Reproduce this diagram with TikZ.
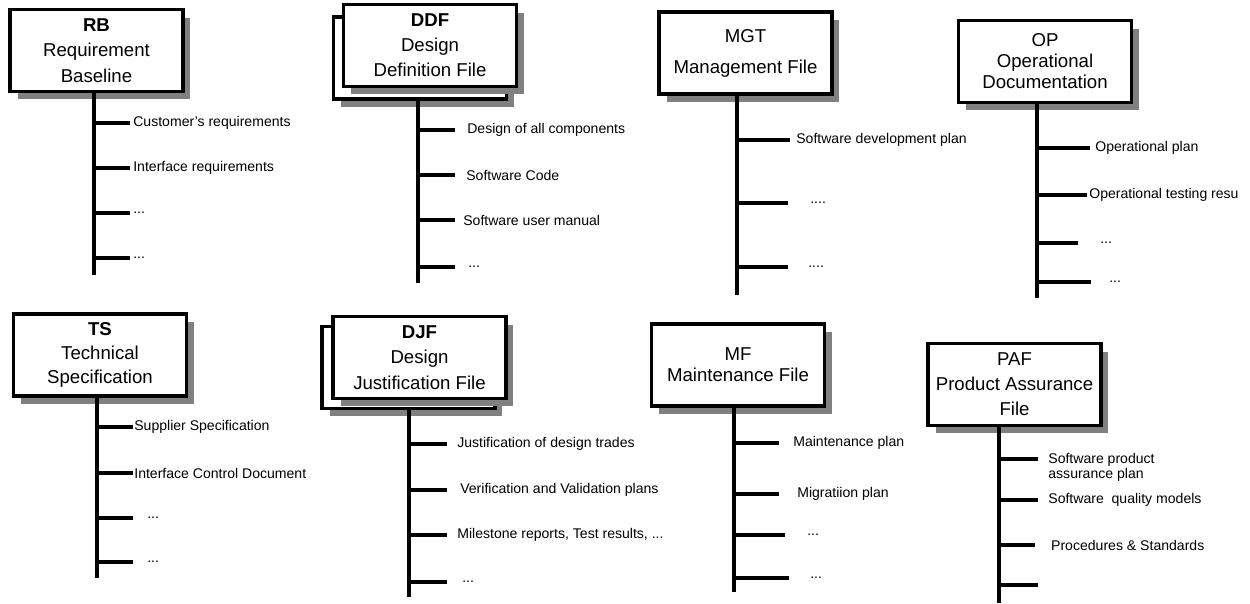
\documentclass[tikz,border=0pt]{standalone}
\usepackage{fontspec}
\setmainfont{Liberation Sans}
\usetikzlibrary{shadows}

\newcommand{\etcdots}{...}

\tikzset{
  doc/.style={draw, line width=2pt, fill=white, align=center,
    minimum width=3.46cm, minimum height=1.64cm, inner sep=2pt,
    font=\fontsize{10.6}{#1}\selectfont,
    drop shadow={shadow xshift=0.15cm, shadow yshift=-0.16cm, fill=gray, opacity=1}},
  doc/.default=14.5,
  stem/.style={line width=2pt},
  branch/.style={line width=2pt},
  item/.style={anchor=west, inner ysep=0pt, inner xsep=#1, font=\fontsize{8}{9.6}\selectfont},
  item/.default=2pt
}

\begin{document}
\begin{tikzpicture}[x=0.02cm, y=-0.02cm]
\useasboundingbox (0,0) rectangle (1250,604);

% document boxes
\node[doc] (rb) at (96.5,50.5) {\textbf{RB}\\Requirement\\Baseline};
\node[doc] (ddfback) at (420,58) {};
\node[doc=14.2] (ddf) at (430,45.5) {\textbf{DDF}\\Design\\Definition File};
\node[doc=17.6] (mgt) at (745.5,53) {MGT\\Management File};
\node[doc=12] (op) at (1045,61.5) {OP\\Operational\\Documentation};
\node[doc=13.6] (ts) at (100,355) {\textbf{TS}\\Technical\\Specification};
\node[doc] (djfback) at (408.5,367.5) {};
\node[doc] (djf) at (419.5,357.5) {\textbf{DJF}\\Design\\Justification File};
\node[doc=12] (mf) at (738,365) {MF\\Maintenance File};
\node[doc=14.2] (paf) at (1014.5,384.5) {PAF\\Product Assurance\\File};

% stems
\coordinate (rbbot) at (94,275);
\coordinate (ddfbot) at (418,283);
\coordinate (mgtbot) at (737,295);
\coordinate (opbot) at (1037,298);
\coordinate (tsbot) at (97,578);
\coordinate (djfbot) at (409,597);
\coordinate (mfbot) at (734,592);
\coordinate (pafbot) at (999,603);
\draw[stem] (rbbot |- rb.south) -- (rbbot);
\draw[stem] (ddfbot |- ddfback.south) -- (ddfbot);
\draw[stem] (mgtbot |- mgt.south) -- (mgtbot);
\draw[stem] (opbot |- op.south) -- (opbot);
\draw[stem] (tsbot |- ts.south) -- (tsbot);
\draw[stem] (djfbot |- djfback.south) -- (djfbot);
\draw[stem] (mfbot |- mf.south) -- (mfbot);
\draw[stem] (pafbot |- paf.south) -- (pafbot);

% contents
\foreach \y/\e/\g/\t [count=\i] in {123/130/3/Customer's requirements, 168/130/3/Interface requirements,
    213/130/3/\etcdots, 258/130/3/\etcdots}
{
  \pgfmathsetmacro\gap{\g*0.567}
  \node[item=\gap pt] (rb\i) at (\e,\y) {\t};
  \draw[branch] (rb\i.west -| rbbot) -- (rb\i.west);
}
\foreach \y/\e/\g/\t [count=\i] in {130/455/12/Design of all components, 175/455/11/Software Code,
    220/455/8/Software user manual, 267/455/13/\etcdots}
{
  \pgfmathsetmacro\gap{\g*0.567}
  \node[item=\gap pt] (ddf\i) at (\e,\y) {\t};
  \draw[branch] (ddf\i.west -| ddfbot) -- (ddf\i.west);
}
\foreach \y/\e/\g/\t [count=\i] in {140/790/6/Software development plan, 203/788/22/\etcdots.,
    267/788/20/\etcdots.}
{
  \pgfmathsetmacro\gap{\g*0.567}
  \node[item=\gap pt] (mgt\i) at (\e,\y) {\t};
  \draw[branch] (mgt\i.west -| mgtbot) -- (mgt\i.west);
}
\foreach \y/\e/\g/\t [count=\i] in {148/1090/5/Operational plan, 195/1087/2/Operational testing resu,
    243/1078/22/\etcdots, 282/1091/18/\etcdots}
{
  \pgfmathsetmacro\gap{\g*0.567}
  \node[item=\gap pt] (op\i) at (\e,\y) {\t};
  \draw[branch] (op\i.west -| opbot) -- (op\i.west);
}
\foreach \y/\e/\g/\t [count=\i] in {427/133/1/Supplier Specification, 473/133/1/Interface Control Document,
    518/133/14/\etcdots, 562/133/14/\etcdots}
{
  \pgfmathsetmacro\gap{\g*0.567}
  \node[item=\gap pt] (ts\i) at (\e,\y) {\t};
  \draw[branch] (ts\i.west -| tsbot) -- (ts\i.west);
}
\foreach \y/\e/\g/\t [count=\i] in {444/447/10/Justification of design trades,
    490/447/13/Verification and Validation plans,
    535/447/10/{Milestone reports, Test results, \etcdots}, 582/447/15/\etcdots}
{
  \pgfmathsetmacro\gap{\g*0.567}
  \node[item=\gap pt] (djf\i) at (\e,\y) {\t};
  \draw[branch] (djf\i.west -| djfbot) -- (djf\i.west);
}
\foreach \y/\e/\g/\t [count=\i] in {443/779/14/Maintenance plan, 494/779/18/Migratiion plan,
    535/785/22/\etcdots, 578/789/21/\etcdots}
{
  \pgfmathsetmacro\gap{\g*0.567}
  \node[item=\gap pt] (mf\i) at (\e,\y) {\t};
  \draw[branch] (mf\i.west -| mfbot) -- (mf\i.west);
}
\node[item=5.7pt, align=left, font=\fontsize{8}{8.5}\selectfont] (paf1) at (1038,467.5) {Software product\\assurance plan};
\draw[branch] ([yshift=4.8pt]paf1.west -| pafbot) -- ([yshift=4.8pt]paf1.west);
\node[item=5.7pt] (paf2) at (1038,500) {Software\ \ quality models};
\draw[branch] (paf2.west -| pafbot) -- (paf2.west);
\node[item=9pt] (paf3) at (1035,545) {Procedures \& Standards};
\draw[branch] (paf3.west -| pafbot) -- (paf3.west);
\coordinate (paf4) at (1038,585);
\draw[branch] (paf4 -| pafbot) -- (paf4);
\end{tikzpicture}
\end{document}
